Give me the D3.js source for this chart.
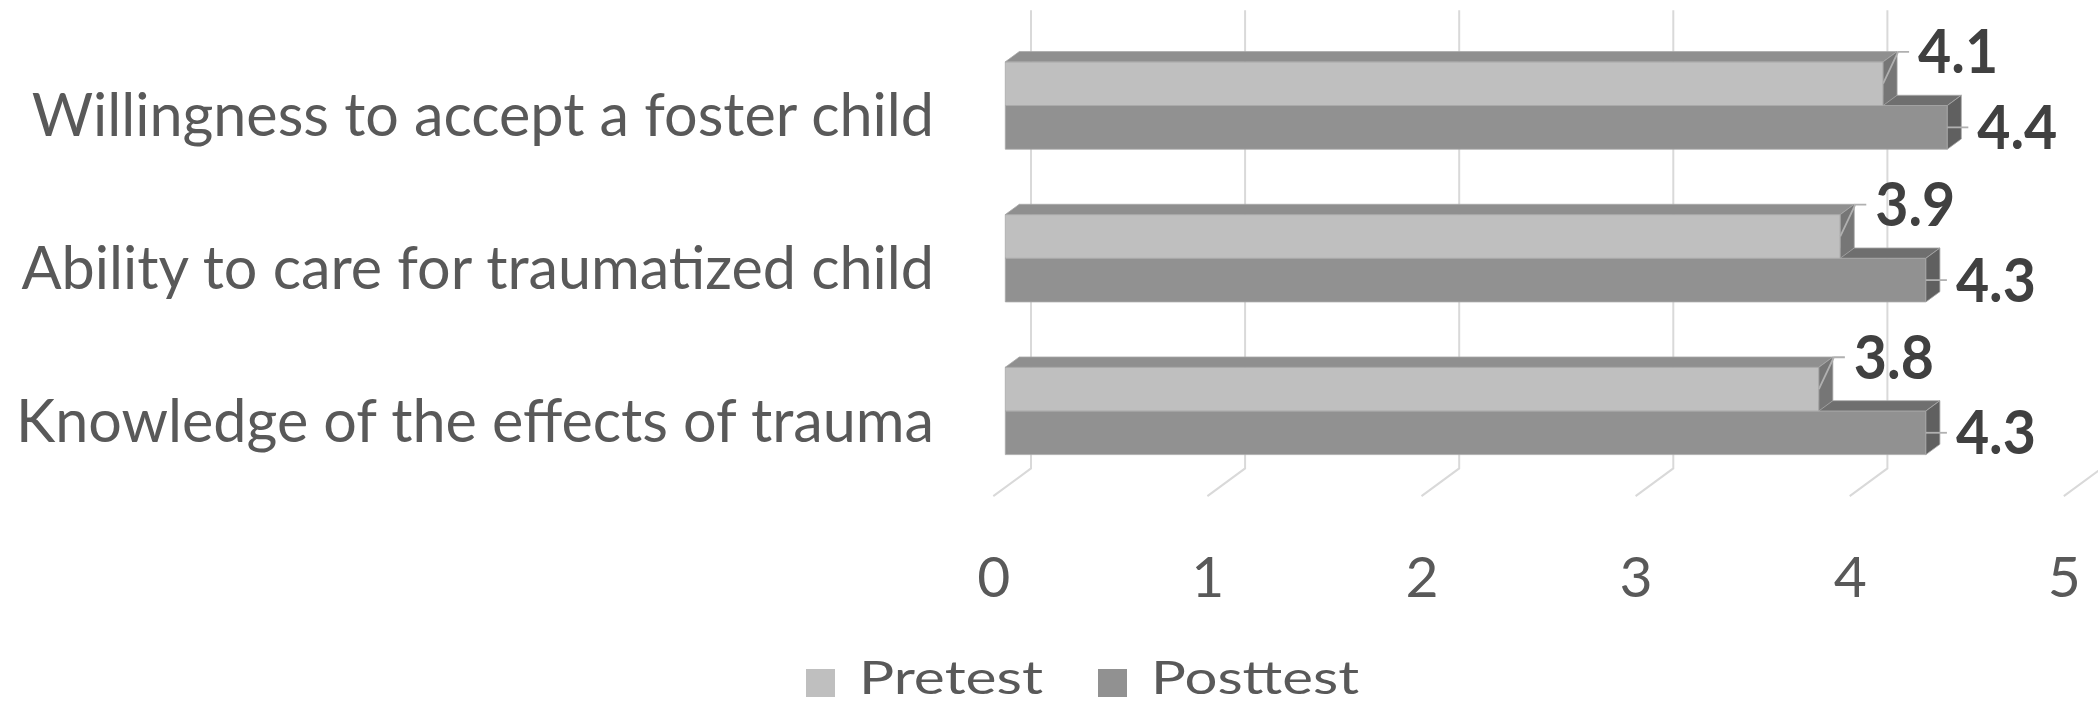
<!DOCTYPE html>
<html>
<head>
<meta charset="utf-8">
<script src="https://cdn.jsdelivr.net/npm/d3@7/dist/d3.min.js"></script>
<style>
  html, body { margin: 0; padding: 0; background: #ffffff; }
  svg { display: block; }
  text { font-family: Lato, "Open Sans", sans-serif; }
</style>
</head>
<body>
<svg id="chart" width="2098" height="704"></svg>
<script>
// ---- data ----
const categories = [
  "Willingness to accept a foster child",
  "Ability to care for traumatized child",
  "Knowledge of the effects of trauma"
];
const seriesNames = ["Pretest", "Posttest"];
const pretest = [4.1, 3.9, 3.8];
const posttest = [4.4, 4.3, 4.3];
const xTicks = [0, 1, 2, 3, 4, 5];

// ---- layout ----
const W = 2098, H = 704;
const DX = 37.7, DY = -27.7;       // depth vector (front floor -> back wall)
const zF = 0.318, zB = 0.689;      // bar depth span
const colors = {
  Pretest:  { front: "#bfbfbf", top: "#8f8f8f", side: "#767676" },
  Posttest: { front: "#919191", top: "#6f6f6f", side: "#606060" }
};
const textColor = "#595959";

const svg = d3.select("#chart");

const x = d3.scaleLinear().domain([0, 5]).range([993.3, 2063.8]);
const y = d3.scaleBand().domain(categories).range([38, 496.1])
  .paddingInner(0.428).paddingOuter(0.214);
const s = d3.scaleBand().domain(seriesNames).range([0, y.bandwidth()]);

const px = (v, z) => x(v) + DX * z;
const py = (yy, z) => yy + DY * z;
const [yTop, yBot] = y.range();

// ---- back wall gridlines and floor lines ----
const grid = svg.append("g").attr("stroke", "#d9d9d9").attr("stroke-width", 2).attr("fill", "none");
grid.selectAll("path.grid").data(xTicks).join("path")
  .attr("class", "grid")
  .attr("d", v => d3.line()([
    [px(v, 1), py(yTop, 1)],
    [px(v, 1), py(yBot, 1)],
    [px(v, 0), py(yBot, 0)]
  ]));

// ---- bars ----
const rows = categories.map((c, i) => ({
  cat: c,
  values: [
    { series: "Pretest", value: pretest[i] },
    { series: "Posttest", value: posttest[i] }
  ]
}));

function drawBar(g, cat, d) {
  const y0 = y(cat) + s(d.series);
  const h = s.bandwidth();
  const v = d.value;
  const col = colors[d.series];
  const stroke = "#a8a8a8";
  g.append("path")
    .attr("d", d3.line()([
      [px(0, zF), py(y0, zF)], [px(v, zF), py(y0, zF)],
      [px(v, zF), py(y0 + h, zF)], [px(0, zF), py(y0 + h, zF)]
    ]) + "Z")
    .attr("fill", col.front).attr("stroke", stroke).attr("stroke-width", 0.8);
  g.append("path")
    .attr("d", d3.line()([
      [px(0, zF), py(y0, zF)], [px(v, zF), py(y0, zF)],
      [px(v, zB), py(y0, zB)], [px(0, zB), py(y0, zB)]
    ]) + "Z")
    .attr("fill", col.top).attr("stroke", stroke).attr("stroke-width", 0.8);
  g.append("path")
    .attr("d", d3.line()([
      [px(v, zF), py(y0, zF)], [px(v, zB), py(y0, zB)],
      [px(v, zB), py(y0 + h, zB)], [px(v, zF), py(y0 + h, zF)]
    ]) + "Z")
    .attr("fill", col.side).attr("stroke", stroke).attr("stroke-width", 0.8);
}

const barsG = svg.append("g");
rows.forEach(r => {
  const g = barsG.append("g");
  drawBar(g, r.cat, r.values[1]);
  drawBar(g, r.cat, r.values[0]);
});

// ---- data labels with leader lines ----
const labelsG = svg.append("g");
rows.forEach(r => {
  r.values.forEach(d => {
    const y0 = y(r.cat) + s(d.series);
    const h = s.bandwidth();
    const end = px(d.value, zF);
    const frontTop = py(y0, zF);
    const barMid = frontTop + h / 2;
    let left, cy;
    if (d.series === "Pretest") { left = end + 37; cy = frontTop - 10; }
    else { left = end + 32; cy = barMid; }
    const bendX = Math.max(end, left - 22);
    labelsG.append("path")
      .attr("d", d3.line()([[end, barMid], [bendX, cy], [left - 11, cy]]))
      .attr("fill", "none").attr("stroke", "#b0b0b0").attr("stroke-width", 1.8);
    labelsG.append("text")
      .attr("x", left - 2).attr("y", cy + 21.5)
      .attr("font-size", 61).attr("font-weight", 700)
      .attr("fill", "#404040")
      .attr("textLength", 80).attr("lengthAdjust", "spacingAndGlyphs")
      .text(d3.format(".1f")(d.value));
  });
});

// ---- category axis (labels at the front plane) ----
const catAxis = svg.append("g")
  .attr("transform", "translate(934,0)")
  .call(d3.axisLeft(y).tickSize(0).tickPadding(0));
catAxis.select(".domain").remove();
const catTexts = catAxis.selectAll("text")
  .attr("x", 0).attr("dy", 22)
  .attr("font-size", 60).attr("fill", textColor)
  .style("font-family", "Lato, 'Open Sans', sans-serif")
  .attr("text-anchor", "end");
let maxW = 0;
catTexts.each(function () { maxW = Math.max(maxW, this.getComputedTextLength()); });
const kCat = 918 / maxW;
catTexts.each(function () {
  const w = this.getComputedTextLength();
  d3.select(this).attr("textLength", w * kCat).attr("lengthAdjust", "spacingAndGlyphs");
});

// ---- value axis tick labels ----
const valAxis = svg.append("g")
  .attr("transform", `translate(0,${yBot + 101.2})`)
  .call(d3.axisBottom(x).tickValues(xTicks).tickSize(0).tickPadding(0).tickFormat(d3.format("d")));
valAxis.select(".domain").remove();
valAxis.selectAll("text")
  .attr("y", 0).attr("dy", null)
  .attr("font-size", 57).attr("fill", textColor)
  .style("font-family", "Lato, 'Open Sans', sans-serif");

// ---- legend ----
const legend = svg.append("g");
const legItems = [
  { name: seriesNames[0], sx: 806, tx: 859, len: 184 },
  { name: seriesNames[1], sx: 1098, tx: 1151, len: 208 }
];
legItems.forEach(it => {
  legend.append("rect")
    .attr("x", it.sx).attr("y", 669).attr("width", 29).attr("height", 28)
    .attr("fill", colors[it.name].front);
  legend.append("text")
    .attr("x", it.tx).attr("y", 693.5)
    .attr("font-size", 47).attr("fill", textColor)
    .attr("textLength", it.len).attr("lengthAdjust", "spacingAndGlyphs")
    .text(it.name);
});
</script>
</body>
</html>
